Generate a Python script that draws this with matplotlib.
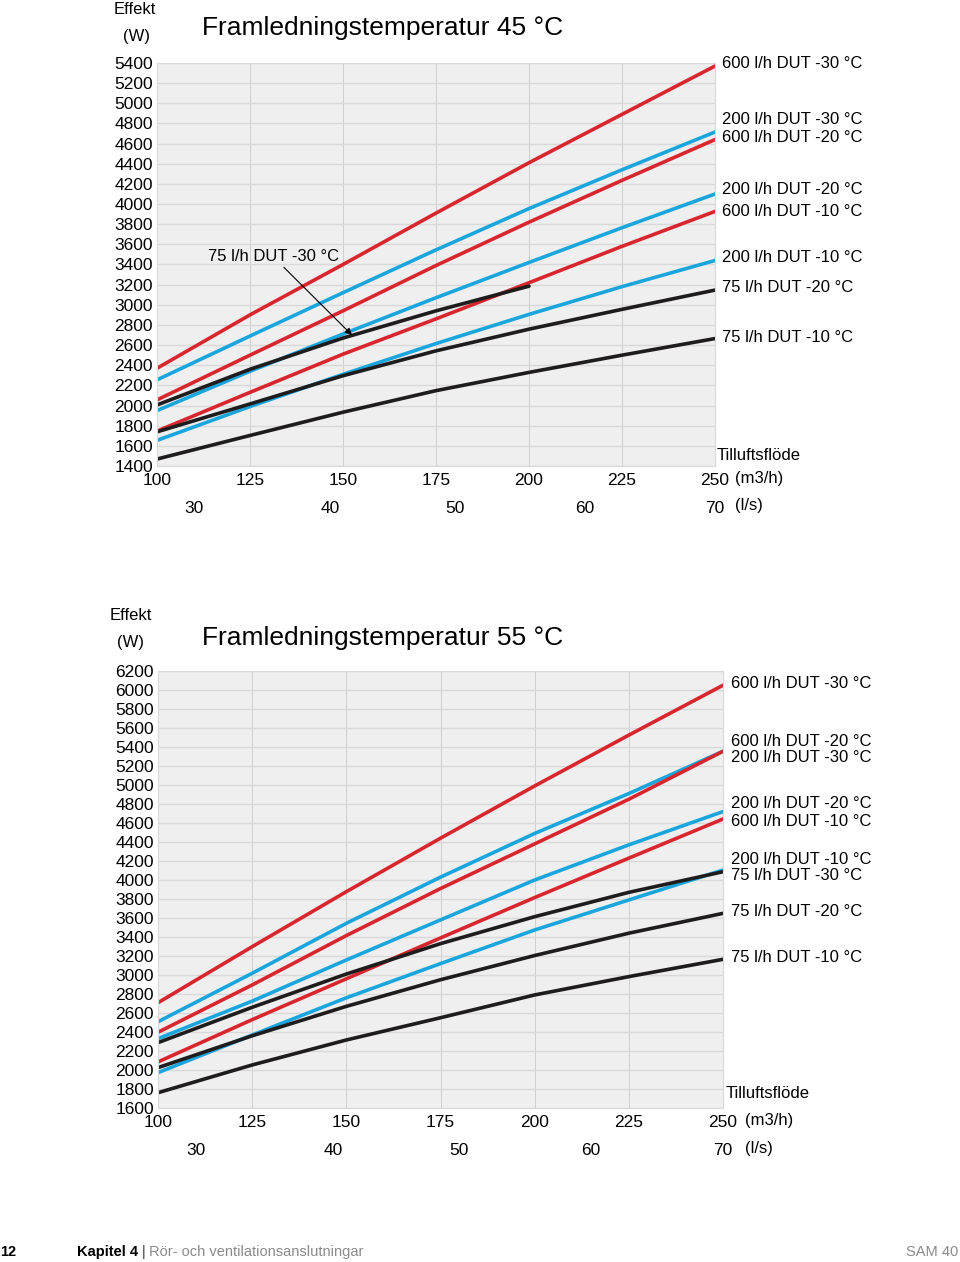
import matplotlib
matplotlib.use('Agg')
import matplotlib.pyplot as plt
import numpy as np

# ------------------- data -------------------
m3h = [100, 125, 150, 175, 200, 225, 250]
m3h_short = [100, 125, 150, 175, 200]
ls_labels = ['30', '40', '50', '60', '70']
ls_pos = [110, 146.5, 180, 215, 250]

# Framledningstemperatur 45 C
t45_600_30 = [2370, 2900, 3400, 3910, 4410, 4890, 5370]
t45_200_30 = [2255, 2690, 3120, 3545, 3955, 4340, 4715]
t45_600_20 = [2056, 2500, 2940, 3390, 3820, 4235, 4640]
t45_200_20 = [1950, 2340, 2710, 3070, 3420, 3765, 4100]
t45_600_10 = [1746, 2131, 2510, 2860, 3219, 3580, 3927]
t45_200_10 = [1654, 1990, 2310, 2615, 2905, 3180, 3440]
t45_75_30 = [2006, 2360, 2670, 2940, 3185]
t45_75_20 = [1739, 2016, 2296, 2543, 2758, 2955, 3146]
t45_75_10 = [1469, 1703, 1934, 2148, 2329, 2500, 2665]

# Framledningstemperatur 55 C
t55_600_30 = [2708, 3298, 3877, 4440, 4990, 5525, 6050]
t55_200_30 = [2508, 3018, 3544, 4030, 4490, 4910, 5355]
t55_600_20 = [2397, 2895, 3415, 3910, 4380, 4850, 5355]
t55_200_20 = [2330, 2725, 3158, 3580, 4000, 4370, 4720]
t55_600_10 = [2085, 2530, 2960, 3390, 3815, 4230, 4642]
t55_200_10 = [1972, 2368, 2760, 3120, 3474, 3790, 4105]
t55_75_30 = [2288, 2660, 3010, 3330, 3614, 3870, 4087]
t55_75_20 = [2025, 2360, 2670, 2950, 3205, 3440, 3649]
t55_75_10 = [1761, 2053, 2316, 2550, 2790, 2983, 3165]

RED = '#d8262e'
BLUE = '#1ba5dd'
BLACK = '#1e1c1c'

W, H = 960, 1262
plt.rcParams['font.family'] = ['Liberation Sans', 'DejaVu Sans']

fig = plt.figure(figsize=(W / 100, H / 100), dpi=100)


def px(x, y):
    """pixel -> figure fraction"""
    return x / W, 1 - y / H


def axes_px(left, top, right, bottom):
    return fig.add_axes([left / W, 1 - bottom / H, (right - left) / W, (bottom - top) / H])


def style_axes(ax, ymin, ymax):
    ax.set_facecolor('#efefef')
    ax.set_xlim(100, 250)
    ax.set_ylim(ymin, ymax)
    ax.set_xticks(np.arange(100, 251, 25))
    ax.set_yticks(np.arange(ymin, ymax + 1, 200))
    ax.grid(axis='y', color='#d9d9d9', lw=1.0)
    ax.grid(axis='x', color='#cfcfcf', lw=0.7)
    ax.set_axisbelow(True)
    for s in ax.spines.values():
        s.set_color('#d9d9d9')
        s.set_linewidth(0.8)
    ax.tick_params(length=0, labelsize=12.5, pad=3)
    ax.tick_params(axis='x', pad=5)
    sec = ax.secondary_xaxis('bottom')
    sec.set_xticks(ls_pos)
    sec.set_xticklabels(ls_labels)
    sec.tick_params(length=0, labelsize=12.5, pad=25)
    sec.spines['bottom'].set_visible(False)


def draw(ax, lines):
    for x, y, c in lines:
        ax.plot(x, y, color=c, lw=2.6, solid_capstyle='round')


# ------------------- chart 45 -------------------
ax1 = axes_px(157, 63, 715, 466)
style_axes(ax1, 1400, 5400)
draw(ax1, [
    (m3h, t45_600_30, RED), (m3h, t45_200_30, BLUE), (m3h, t45_600_20, RED),
    (m3h, t45_200_20, BLUE), (m3h, t45_600_10, RED), (m3h, t45_200_10, BLUE),
    (m3h_short, t45_75_30, BLACK), (m3h, t45_75_20, BLACK), (m3h, t45_75_10, BLACK),
])
ax1.annotate('75 l/h DUT -30 °C', xy=(152.4, 2700), xytext=(113.7, 3484),
             fontsize=12, va='center', ha='left',
             arrowprops=dict(arrowstyle='-|>', lw=0.8, color='black',
                             mutation_scale=10, shrinkA=1, shrinkB=0, relpos=(0.55, 0)))

labels45 = [('600 l/h DUT -30 °C', 64), ('200 l/h DUT -30 °C', 120), ('600 l/h DUT -20 °C', 138),
            ('200 l/h DUT -20 °C', 189), ('600 l/h DUT -10 °C', 211), ('200 l/h DUT -10 °C', 258),
            ('75 l/h DUT -20 °C', 287), ('75 l/h DUT -10 °C', 337)]
for t, y in labels45:
    fig.text(*px(722, y), t, fontsize=12, va='center', ha='left')
fig.text(*px(717, 455), 'Tilluftsflöde', fontsize=12, va='center', ha='left')
fig.text(*px(735, 478), '(m3/h)', fontsize=12, va='center', ha='left')
fig.text(*px(735, 506), '(l/s)', fontsize=12, va='center', ha='left')
fig.text(*px(114, 10), 'Effekt', fontsize=12, va='center', ha='left')
fig.text(*px(137, 37), '(W)', fontsize=12, va='center', ha='center')
fig.text(*px(202, 28), 'Framledningstemperatur 45 °C', fontsize=19, va='center', ha='left')

# ------------------- chart 55 -------------------
ax2 = axes_px(158, 671, 723, 1108)
style_axes(ax2, 1600, 6200)
draw(ax2, [
    (m3h, t55_600_30, RED), (m3h, t55_200_30, BLUE), (m3h, t55_600_20, RED),
    (m3h, t55_200_20, BLUE), (m3h, t55_600_10, RED), (m3h, t55_200_10, BLUE),
    (m3h, t55_75_30, BLACK), (m3h, t55_75_20, BLACK), (m3h, t55_75_10, BLACK),
])

labels55 = [('600 l/h DUT -30 °C', 683), ('600 l/h DUT -20 °C', 741), ('200 l/h DUT -30 °C', 757),
            ('200 l/h DUT -20 °C', 803), ('600 l/h DUT -10 °C', 821), ('200 l/h DUT -10 °C', 860),
            ('75 l/h DUT -30 °C', 875), ('75 l/h DUT -20 °C', 911), ('75 l/h DUT -10 °C', 957)]
for t, y in labels55:
    fig.text(*px(731, y), t, fontsize=12, va='center', ha='left')
fig.text(*px(726, 1093), 'Tilluftsflöde', fontsize=12, va='center', ha='left')
fig.text(*px(745, 1120), '(m3/h)', fontsize=12, va='center', ha='left')
fig.text(*px(745, 1148), '(l/s)', fontsize=12, va='center', ha='left')
fig.text(*px(110, 616), 'Effekt', fontsize=12, va='center', ha='left')
fig.text(*px(131, 642), '(W)', fontsize=12, va='center', ha='center')
fig.text(*px(202, 638), 'Framledningstemperatur 55 °C', fontsize=19, va='center', ha='left')

# ------------------- footer -------------------
foot = ['Liberation Sans Narrow', 'Liberation Sans', 'DejaVu Sans']
fig.text(*px(0, 1252), '12', fontsize=10.5, fontweight='bold', va='center', ha='left', family=foot)
fig.text(*px(77, 1252), 'Kapitel 4', fontsize=10.5, fontweight='bold', va='center', ha='left', family=foot)
fig.text(*px(142, 1252), '|', fontsize=10.5, va='center', ha='left', family=foot, color='#333333')
fig.text(*px(149, 1252), 'Rör- och ventilationsanslutningar', fontsize=10.5, va='center', ha='left',
         family=foot, color='#8a8a8a')
fig.text(*px(958, 1252), 'SAM 40', fontsize=10.5, va='center', ha='right', family=foot, color='#8a8a8a')

fig.savefig('out.png', dpi=100)
